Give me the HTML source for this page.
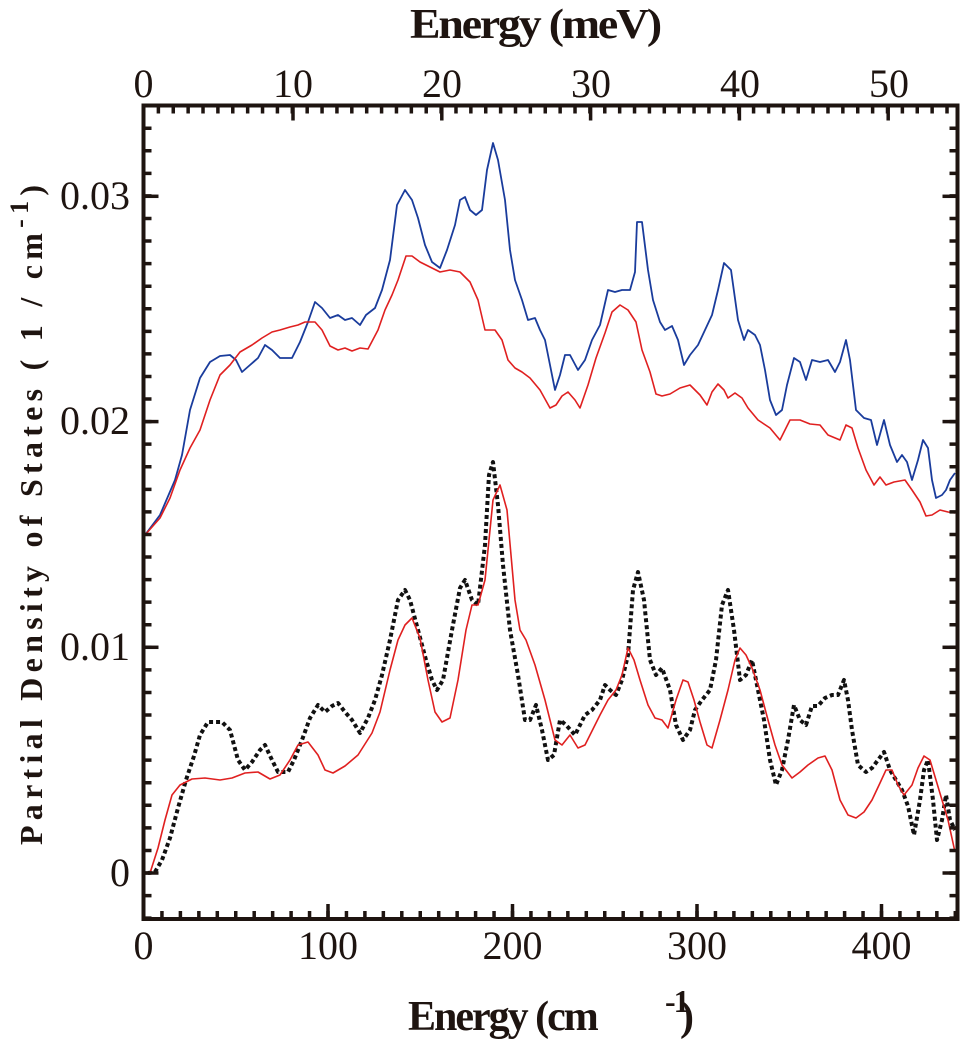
<!DOCTYPE html>
<html><head><style>body{margin:0;background:#fff}</style></head><body>
<svg width="960" height="1040" viewBox="0 0 960 1040" xmlns="http://www.w3.org/2000/svg">
<rect width="960" height="1040" fill="#fff"/>
<g fill="none" stroke-linejoin="round">
<polyline stroke="#1a3c9c" stroke-width="1.8" points="145,535 160,515 175,480 182,455 190,410 200,378 210,362 220,356 230,355 236,360 242,372 250,365 258,358 265,345 272,350 280,358 292,358 300,342 308,322 315,302 322,308 330,318 338,315 345,320 352,318 360,325 366,315 375,308 382,290 390,260 397,205 405,190 412,200 418,218 425,245 432,262 440,268 447,250 455,225 460,200 465,197 470,210 476,215 482,210 487,170 493,143 498,160 505,200 510,250 515,280 522,300 528,320 535,318 540,330 545,340 550,365 555,390 560,375 565,355 570,355 578,370 585,360 592,340 600,325 608,290 615,292 622,290 630,290 635,272 637,222 642,222 648,270 653,300 660,322 665,330 672,326 678,340 684,365 690,355 698,345 705,330 712,315 718,290 724,263 731,270 738,320 744,340 748,330 755,335 760,345 765,370 770,400 776,415 782,410 787,385 794,358 800,362 806,380 812,360 820,362 828,360 835,372 840,362 846,340 850,360 856,410 864,418 871,420 877,445 884,420 890,445 897,462 902,455 907,462 912,480 918,460 923,440 928,448 932,480 936,498 942,495 946,490 950,480 955,473"/>
<polyline stroke="#e02020" stroke-width="1.6" points="145,535 160,518 170,498 180,470 190,448 200,430 210,400 220,375 230,365 240,352 252,345 262,338 272,332 280,330 290,327 298,325 305,322 315,322 322,330 330,346 338,350 345,348 352,351 360,348 368,349 378,330 385,310 392,295 398,280 406,256 412,256 420,262 432,268 440,272 450,270 460,272 470,282 478,300 485,330 495,330 502,340 508,360 515,368 522,372 530,378 540,390 550,408 556,405 562,396 568,392 575,400 580,408 588,385 596,358 605,333 612,312 620,305 628,310 636,322 642,350 650,372 656,394 662,396 670,394 680,388 690,385 700,395 707,405 712,392 718,384 724,390 728,398 735,393 742,398 748,408 758,420 770,428 780,440 790,420 800,420 810,424 820,425 828,435 840,440 846,425 852,428 858,448 866,470 874,485 880,477 886,485 894,482 905,480 912,490 920,502 926,516 932,515 940,510 948,512 955,513"/>
<polyline stroke="#111" stroke-width="4" stroke-dasharray="4,3" points="148,873 155,872 162,860 170,838 178,808 186,780 194,756 200,735 208,722 215,722 222,722 230,730 238,760 245,770 252,762 260,750 265,745 272,760 278,772 288,772 294,760 302,740 310,718 318,705 325,712 332,706 338,703 345,712 352,720 360,733 368,718 375,700 382,675 390,640 398,600 405,590 410,600 418,630 426,660 432,680 437,690 443,680 452,630 460,588 465,580 472,600 478,605 485,545 489,475 493,462 498,505 503,565 510,630 518,675 525,720 530,720 536,705 542,730 548,760 554,755 560,720 566,725 575,735 585,715 592,710 600,700 605,685 610,690 616,695 622,680 628,655 633,590 638,572 644,600 650,660 656,675 662,668 670,690 676,725 683,740 690,730 695,710 702,700 710,690 716,660 722,605 728,590 734,630 740,680 746,675 752,660 758,690 764,720 770,760 776,785 782,770 788,740 794,705 800,720 806,725 812,706 818,706 825,698 832,695 838,695 844,680 848,700 852,730 858,765 866,772 872,768 878,760 884,752 890,770 896,780 902,790 908,806 914,835 920,800 924,770 928,760 933,800 937,840 942,820 946,795 950,820 955,830"/>
<polyline stroke="#e02020" stroke-width="1.6" points="150,873 158,848 165,820 172,795 180,785 192,779 205,778 220,780 232,778 245,773 258,772 270,779 280,775 290,760 298,745 308,742 318,755 325,770 333,773 345,766 358,755 372,733 380,712 390,670 398,640 405,625 412,618 420,638 428,680 435,712 442,722 450,718 458,680 466,630 472,605 478,605 485,580 493,500 500,485 507,510 515,600 520,630 526,640 535,665 545,700 555,740 562,745 570,735 578,748 585,745 590,735 600,715 608,700 616,690 622,675 628,648 634,660 640,680 648,705 655,718 662,720 668,728 676,700 683,680 688,682 694,700 700,722 707,745 712,748 720,720 728,690 735,660 740,648 746,655 752,668 760,690 768,720 775,745 782,765 792,778 800,772 808,765 818,758 825,756 832,770 840,800 848,815 856,818 864,812 872,800 880,783 886,770 892,770 898,785 904,795 912,785 918,768 924,756 930,760 936,780 942,800 948,820 955,852"/>
</g>
<g stroke="#1e1410" stroke-width="8" fill="none">
<line x1="160.2" y1="915" x2="957" y2="915" stroke-dasharray="3.5,14.95"/>
<line x1="156.63" y1="109.5" x2="957" y2="109.5" stroke-dasharray="3.5,11.38"/>
<line x1="147.5" y1="126.45" x2="147.5" y2="918" stroke-dasharray="3.5,19.07"/>
<line x1="953.5" y1="126.45" x2="953.5" y2="918" stroke-dasharray="3.5,19.07"/>
</g>
<g stroke="#1e1410" stroke-width="3.5">
<line x1="328" y1="904" x2="328" y2="919"/><line x1="512.5" y1="904" x2="512.5" y2="919"/><line x1="697" y1="904" x2="697" y2="919"/><line x1="881.5" y1="904" x2="881.5" y2="919"/>
<line x1="293" y1="105.5" x2="293" y2="120.5"/><line x1="441.8" y1="105.5" x2="441.8" y2="120.5"/><line x1="590.6" y1="105.5" x2="590.6" y2="120.5"/><line x1="739.4" y1="105.5" x2="739.4" y2="120.5"/><line x1="888.2" y1="105.5" x2="888.2" y2="120.5"/>
<line x1="143.5" y1="196.3" x2="158.5" y2="196.3"/><line x1="143.5" y1="421.6" x2="158.5" y2="421.6"/><line x1="143.5" y1="647.3" x2="158.5" y2="647.3"/><line x1="143.5" y1="873" x2="158.5" y2="873"/>
<line x1="942.5" y1="196.3" x2="957.5" y2="196.3"/><line x1="942.5" y1="421.6" x2="957.5" y2="421.6"/><line x1="942.5" y1="647.3" x2="957.5" y2="647.3"/><line x1="942.5" y1="873" x2="957.5" y2="873"/>
</g>
<rect x="143.5" y="105.5" width="814" height="813.5" fill="none" stroke="#1e1410" stroke-width="4"/>
<g font-family="Liberation Serif, serif" font-size="40" fill="#1e1410">
<g text-anchor="middle">
<text x="143.5" y="959">0</text><text x="328" y="959">100</text><text x="512.5" y="959">200</text><text x="697" y="959">300</text><text x="881.5" y="959">400</text>
<text x="143.5" y="97">0</text><text x="293" y="97">10</text><text x="442" y="97">20</text><text x="591" y="97">30</text><text x="740" y="97">40</text><text x="889" y="97">50</text>
</g>
<g text-anchor="end">
<text x="130" y="209">0.03</text><text x="130" y="434">0.02</text><text x="130" y="660">0.01</text><text x="130" y="886">0</text>
</g>
<g font-weight="bold" font-size="42" letter-spacing="-2">
<text x="410" y="38" textLength="250" lengthAdjust="spacingAndGlyphs">Energy (meV)</text>
<text x="408" y="1030">Energy (cm</text>
<text x="665" y="1012" font-size="32">-1</text>
<text x="680" y="1030">)</text>
</g>
<text transform="translate(42,515) rotate(-90)" font-weight="bold" font-size="32" text-anchor="middle" textLength="660" lengthAdjust="spacing">Partial  Density  of  States  ( 1 / cm<tspan font-size="26" dy="-14">-1</tspan><tspan dy="14">)</tspan></text>
</g>
</svg>
</body></html>
